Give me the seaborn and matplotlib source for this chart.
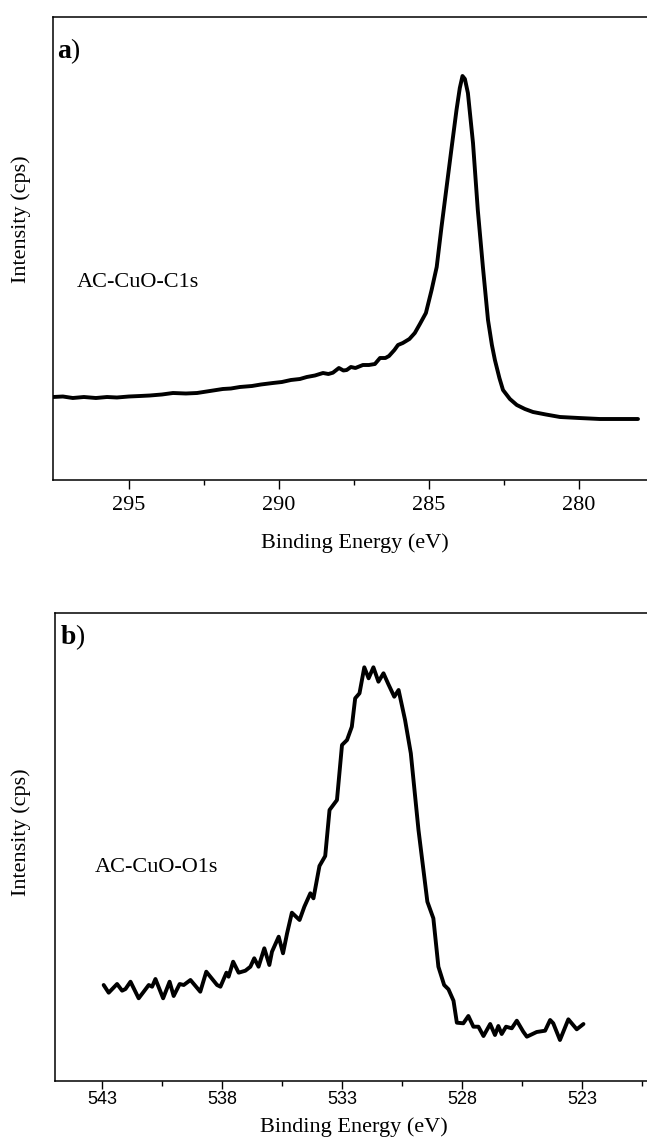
import matplotlib
matplotlib.use("Agg")
import matplotlib.pyplot as plt
import seaborn as sns
import pandas as pd
from matplotlib.ticker import FixedLocator

# C1s spectrum: binding energy (eV) and intensity (cps)
c1s_energy = [297.53, 297.2, 296.87, 296.5, 296.1, 295.73, 295.4, 295.0, 294.63, 294.3,
              293.9, 293.53, 293.1, 292.73, 292.3, 291.87, 291.6, 291.3, 290.9, 290.6,
              290.2, 289.9, 289.6, 289.3, 289.07, 288.8, 288.53, 288.35, 288.2, 288.0,
              287.85, 287.74, 287.6, 287.45, 287.2, 287.0, 286.8, 286.63, 286.45, 286.33,
              286.15, 286.03, 285.87, 285.65, 285.47, 285.3, 285.1, 284.91, 284.74, 284.58,
              284.41, 284.24, 284.08, 283.97, 283.88, 283.8, 283.7, 283.53, 283.37, 283.2,
              283.03, 282.9, 282.8, 282.65, 282.53, 282.3, 282.07, 281.8, 281.53, 281.1,
              280.63, 280.0, 279.3, 278.7, 278.03]
c1s_intensity = [4150, 4175, 4100, 4150, 4100, 4150, 4125, 4175, 4200, 4225,
                 4275, 4350, 4325, 4350, 4450, 4550, 4575, 4650, 4700, 4775,
                 4850, 4900, 5000, 5050, 5150, 5225, 5350, 5300, 5365, 5600,
                 5475, 5500, 5650, 5600, 5750, 5750, 5800, 6100, 6100, 6200,
                 6500, 6750, 6850, 7050, 7350, 7800, 8350, 9500, 10650, 12650,
                 14650, 16650, 18500, 19600, 20200, 20050, 19350, 16850, 13500, 10650,
                 8000, 6750, 6000, 5100, 4500, 4050, 3750, 3550, 3400, 3275,
                 3150, 3100, 3050, 3050, 3050]

# O1s spectrum: binding energy (eV) and intensity (cps)
o1s_energy = [542.95, 542.74, 542.39, 542.18, 542.04, 541.83, 541.49, 541.28, 541.07, 540.93,
              540.79, 540.47, 540.20, 540.03, 539.78, 539.61, 539.33, 538.92, 538.67, 538.22,
              538.08, 537.83, 537.74, 537.55, 537.32, 537.04, 536.83, 536.67, 536.49, 536.25,
              536.04, 535.93, 535.65, 535.47, 535.30, 535.10, 534.78, 534.58, 534.33, 534.20,
              533.95, 533.71, 533.53, 533.22, 533.01, 532.80, 532.60, 532.46, 532.28, 532.08,
              531.90, 531.70, 531.49, 531.28, 531.08, 530.83, 530.65, 530.38, 530.14, 529.82,
              529.45, 529.20, 528.99, 528.75, 528.57, 528.36, 528.22, 527.95, 527.74, 527.53,
              527.32, 527.11, 526.83, 526.63, 526.49, 526.35, 526.17, 525.93, 525.72, 525.45,
              525.30, 524.89, 524.54, 524.33, 524.20, 523.92, 523.57, 523.22, 522.94]
o1s_intensity = [1920, 1766, 1940, 1806, 1840, 1986, 1654, 1786, 1920, 1886,
                 2040, 1654, 1986, 1700, 1940, 1920, 2020, 1786, 2186, 1920,
                 1886, 2166, 2086, 2386, 2166, 2206, 2286, 2454, 2286, 2654,
                 2320, 2586, 2886, 2554, 2954, 3366, 3220, 3486, 3754, 3654,
                 4300, 4500, 5420, 5620, 6720, 6820, 7086, 7654, 7754, 8274,
                 8054, 8274, 7986, 8154, 7940, 7686, 7820, 7220, 6554, 5020,
                 3586, 3254, 2286, 1920, 1834, 1606, 1166, 1154, 1300, 1086,
                 1086, 900, 1140, 920, 1100, 940, 1086, 1054, 1206, 986,
                 886, 980, 1006, 1220, 1154, 820, 1234, 1034, 1140]

c1s_ticks = [295, 290, 285, 280]
c1s_minor = [292.5, 287.5, 282.5]
o1s_ticks = [543, 538, 533, 528, 523]
o1s_minor = [540.5, 535.5, 530.5, 525.5, 520.5]

sns.set_theme(style="ticks")
plt.rcParams["font.family"] = ["Liberation Serif", "DejaVu Serif"]
plt.rcParams["text.color"] = "black"
plt.rcParams["axes.labelcolor"] = "black"
plt.rcParams["xtick.color"] = "black"
plt.rcParams["ytick.color"] = "black"
plt.rcParams["axes.edgecolor"] = "black"
plt.rcParams["mathtext.fontset"] = "custom"
plt.rcParams["mathtext.rm"] = "Liberation Serif"
plt.rcParams["mathtext.bf"] = "Liberation Serif:bold"

W, H = 647, 1144
fig = plt.figure(figsize=(W / 100, H / 100), dpi=100)


def px_axes(left, top, right, bottom):
    return fig.add_axes([left / W, 1 - bottom / H, (right - left) / W, (bottom - top) / H])


ax1 = px_axes(53, 17, 647, 480)
ax2 = px_axes(54.5, 612.7, 647, 1081)

df1 = pd.DataFrame({"energy": c1s_energy, "intensity": c1s_intensity})
df2 = pd.DataFrame({"energy": o1s_energy, "intensity": o1s_intensity})

sns.lineplot(data=df1, x="energy", y="intensity", ax=ax1, color="black",
             linewidth=2.8, estimator=None, sort=False)
sns.lineplot(data=df2, x="energy", y="intensity", ax=ax2, color="black",
             linewidth=2.8, estimator=None, sort=False)

ax1.set_xlim(297.53, 277.73)
ax1.set_ylim(0, 23150)
ax2.set_xlim(545.0, 520.29)
ax2.set_ylim(0, 9366)

for ax in (ax1, ax2):
    ax.spines["right"].set_visible(False)
    for s in ("left", "top", "bottom"):
        ax.spines[s].set_color("black")
        ax.spines[s].set_linewidth(1.1)
    ax.set_yticks([])
    ax.set_ylabel("Intensity (cps)", fontsize=16, family="Liberation Serif", color="black")
    ax.set_xlabel("Binding Energy (eV)", fontsize=16, family="Liberation Serif", color="black")

ax1.tick_params(axis="x", which="major", direction="out", length=6.5, width=1,
                color="black", labelcolor="black", pad=5)
ax1.tick_params(axis="x", which="minor", direction="out", length=3.5, width=1, color="black")
ax2.tick_params(axis="x", which="major", direction="out", length=5.5, width=1,
                color="black", labelcolor="black", pad=1.5)
ax2.tick_params(axis="x", which="minor", direction="out", length=3.5, width=1, color="black")

ax1.xaxis.set_major_locator(FixedLocator(c1s_ticks))
ax1.xaxis.set_minor_locator(FixedLocator(c1s_minor))
ax2.xaxis.set_major_locator(FixedLocator(o1s_ticks))
ax2.xaxis.set_minor_locator(FixedLocator(o1s_minor))

for lab in ax1.get_xticklabels():
    lab.set_fontfamily("Liberation Serif")
    lab.set_fontsize(16)
for lab in ax2.get_xticklabels():
    lab.set_fontfamily("Liberation Sans")
    lab.set_fontsize(13)

ax1.yaxis.set_label_coords(-0.037, 0.564)
ax2.yaxis.set_label_coords(-0.040, 0.532)
ax1.xaxis.set_label_coords(0.508, -0.115)
ax2.xaxis.set_label_coords(0.5055, -0.077)

ax1.text(0.0404, 0.4175, "AC-CuO-C1s", transform=ax1.transAxes, fontsize=16,
         ha="left", va="baseline")
ax2.text(0.0684, 0.447, "AC-CuO-O1s", transform=ax2.transAxes, fontsize=16,
         ha="left", va="baseline")

ax1.text(0.007, 1 - (58 - 17) / 463, r"$\mathbf{a}$)", transform=ax1.transAxes,
         fontsize=20, ha="left", va="baseline")
ax2.text(0.010, 1 - (644 - 612.7) / 468.3, r"$\mathbf{b}$)", transform=ax2.transAxes,
         fontsize=20, ha="left", va="baseline")

fig.savefig("out.png", dpi=100)
